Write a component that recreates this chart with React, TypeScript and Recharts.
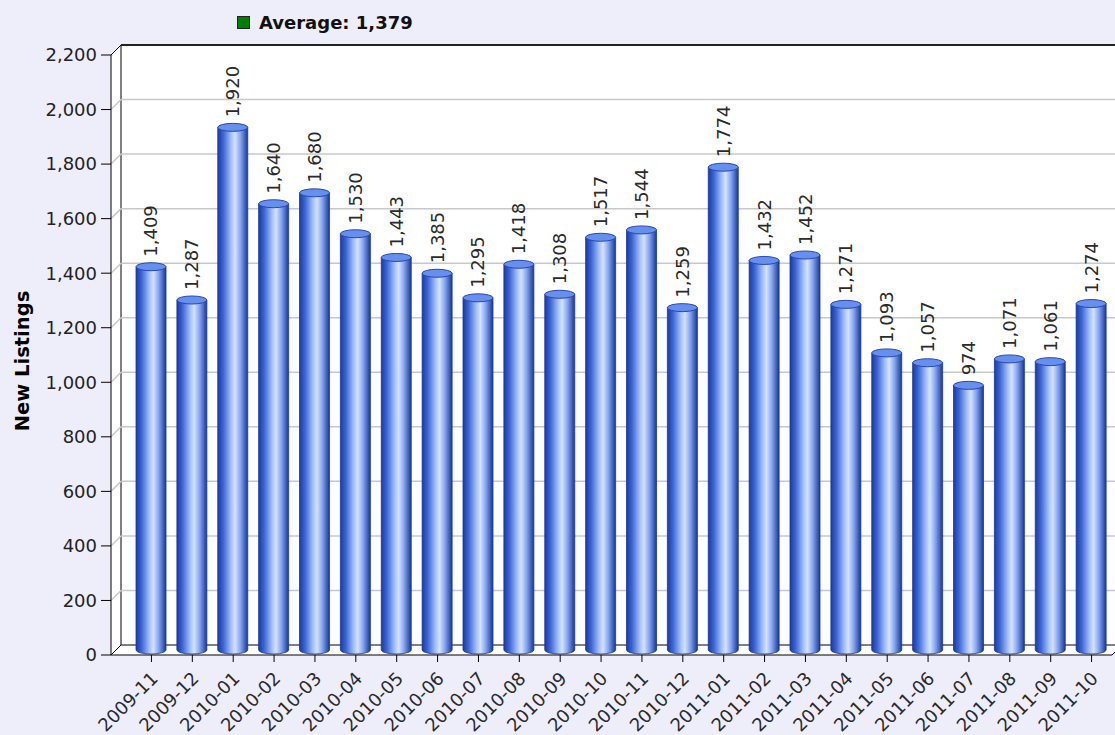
import React from 'react';
import {
    BarChart, Bar, XAxis, YAxis, CartesianGrid, ReferenceArea, LabelList
} from 'recharts';

const MONTHS = [
    '2009-11', '2009-12', '2010-01', '2010-02', '2010-03', '2010-04', '2010-05', '2010-06',
    '2010-07', '2010-08', '2010-09', '2010-10', '2010-11', '2010-12', '2011-01', '2011-02',
    '2011-03', '2011-04', '2011-05', '2011-06', '2011-07', '2011-08', '2011-09', '2011-10',
];
const NEW_LISTINGS = [
    1409, 1287, 1920, 1640, 1680, 1530, 1443, 1385,
    1295, 1418, 1308, 1517, 1544, 1259, 1774, 1432,
    1452, 1271, 1093, 1057, 974, 1071, 1061, 1274,
];
const Y_TICKS = [0, 200, 400, 600, 800, 1000, 1200, 1400, 1600, 1800, 2000, 2200];

const FONT = '"DejaVu Sans", Verdana, sans-serif';
const BG = '#eeeefb';
const DEPTH = 10;
const PAD_LEFT = 20;

const fmt = (v: number) => v.toLocaleString('en-US');

// white walls + black edges, drawn from the reference area rect
const Frame = (props: any) => {
    const { y, height } = props;
    const x = props.x - PAD_LEFT;
    const w = props.width + PAD_LEFT;
    const b = y + height;
    const d = DEPTH;
    return (
        <g>
            <polygon
                points={`${x},${b} ${x},${y} ${x + d},${y - d} ${x + w + d},${y - d} ${x + w + d},${b - d} ${x + w},${b}`}
                fill="#fff"
            />
            <line x1={x + d} y1={y - d} x2={x + d} y2={b - d} stroke="#000" strokeWidth={1} />
            <line x1={x + d} y1={b - d} x2={x + w + d} y2={b - d} stroke="#000" strokeWidth={1} />
            <line x1={x + d} y1={y - d} x2={x + w + d} y2={y - d} stroke="#222" strokeWidth={2} />
            <line x1={x} y1={y} x2={x + d} y2={y - d} stroke="#000" strokeWidth={1} />
            <line x1={x} y1={b} x2={x + d} y2={b - d} stroke="#000" strokeWidth={1} />
            <line x1={x + w} y1={b} x2={x + w + d} y2={b - d} stroke="#000" strokeWidth={1} />
        </g>
    );
};

const GridLine = (props: any) => {
    const { x1, x2, y1, index } = props;
    if (index === 0 || index === Y_TICKS.length - 1) return <g key={props.key} />;
    return (
        <g key={props.key}>
            <line x1={x1} y1={y1} x2={x1 + DEPTH} y2={y1 - DEPTH} stroke="#c8c8c8" strokeWidth={1.5} />
            <line x1={x1 + DEPTH} y1={y1 - DEPTH} x2={x2 + DEPTH} y2={y1 - DEPTH} stroke="#c8c8c8" strokeWidth={1.5} />
        </g>
    );
};

const CylinderBar = (props: any) => {
    const { x, y, width, height } = props;
    if (!height || height <= 0) return null;
    const rx = width / 2;
    const ry = 4;
    const top = y - 4;
    const bot = y + height - 5;
    return (
        <g>
            <path
                d={`M${x},${top} L${x},${bot} A${rx},${ry} 0 0 0 ${x + width},${bot} L${x + width},${top} Z`}
                fill="url(#cylBody)"
                stroke="#1a379a"
                strokeWidth={0.8}
            />
            <ellipse cx={x + rx} cy={top} rx={rx} ry={ry} fill="#6690ec" stroke="#2747b4" strokeWidth={1} />
        </g>
    );
};

const ValueLabel = (props: any) => {
    const { x, y, width, value } = props;
    const cx = x + width / 2;
    const ly = y - 14;
    return (
        <text
            x={cx}
            y={ly}
            transform={`rotate(-90, ${cx}, ${ly})`}
            textAnchor="start"
            dominantBaseline="central"
            fontSize={18}
            fontFamily={FONT}
            fill="#2a2a2a"
        >
            {fmt(value)}
        </text>
    );
};

const MonthTick = (props: any) => {
    const { x, y, payload } = props;
    const tx = x + 3;
    const ty = y + 11;
    return (
        <text
            x={tx}
            y={ty}
            transform={`rotate(-45, ${tx}, ${ty})`}
            textAnchor="end"
            dominantBaseline="central"
            fontSize={18}
            fontFamily={FONT}
            fill="#2a2a2a"
        >
            {payload.value}
        </text>
    );
};

const YLabel = (props: any) => {
    const vb = props.viewBox || { x: 0, y: 55, width: 111, height: 600 };
    const lx = vb.x + 22;
    const ly = vb.y + vb.height / 2 + 6;
    return (
        <text
            x={lx}
            y={ly}
            transform={`rotate(-90, ${lx}, ${ly})`}
            textAnchor="middle"
            dominantBaseline="central"
            fontSize={19.5}
            fontWeight="bold"
            fontFamily={FONT}
            fill="#000"
        >
            New Listings
        </text>
    );
};

export default function App() {
    const data = MONTHS.map((m, i) => ({ month: m, value: NEW_LISTINGS[i] }));
    const avg = Math.round(NEW_LISTINGS.reduce((a, b) => a + b, 0) / NEW_LISTINGS.length);

    return (
        <div style={{ position: 'absolute', left: 0, top: 0, width: 1115, height: 735, background: BG, overflow: 'hidden' }}>
            <div style={{ position: 'absolute', left: 237, top: 12, display: 'flex', alignItems: 'center', fontFamily: FONT, fontWeight: 'bold', fontSize: 18, color: '#111', zIndex: 2 }}>
                <span style={{ width: 11, height: 11, background: '#008000', border: '1px solid #222', marginRight: 9, display: 'inline-block' }} />
                <span>Average: {fmt(avg)}</span>
            </div>
            <BarChart
                width={1115}
                height={735}
                data={data}
                margin={{ top: 55, right: 3, bottom: 0, left: 0 }}
                barSize={30}
            >
                <defs>
                    <linearGradient id="cylBody" x1="0" y1="0" x2="1" y2="0">
                        <stop offset="0%" stopColor="#1a3aa8" />
                        <stop offset="18%" stopColor="#3a64d2" />
                        <stop offset="45%" stopColor="#a4c0fa" />
                        <stop offset="58%" stopColor="#d4e2ff" />
                        <stop offset="76%" stopColor="#84a4ee" />
                        <stop offset="100%" stopColor="#17369e" />
                    </linearGradient>
                </defs>
                <ReferenceArea y1={0} y2={2200} shape={<Frame />} zIndex={-150} ifOverflow="visible" />
                <CartesianGrid vertical={false} horizontal={GridLine} zIndex={-100} />
                <XAxis
                    dataKey="month"
                    height={80}
                    padding={{ left: PAD_LEFT, right: 0 }}
                    interval={0}
                    tick={<MonthTick />}
                    tickSize={7}
                    axisLine={{ stroke: '#000' }}
                    tickLine={{ stroke: '#000' }}
                />
                <YAxis
                    width={111}
                    domain={[0, 2200]}
                    ticks={Y_TICKS}
                    tickFormatter={fmt}
                    tickSize={10}
                    tickMargin={4}
                    tick={{ fontSize: 18, fontFamily: FONT, fill: '#222' }}
                    axisLine={{ stroke: '#000' }}
                    tickLine={{ stroke: '#000' }}
                    label={<YLabel />}
                />
                <Bar dataKey="value" shape={<CylinderBar />} isAnimationActive={false}>
                    <LabelList dataKey="value" content={<ValueLabel />} />
                </Bar>
            </BarChart>
        </div>
    );
}
